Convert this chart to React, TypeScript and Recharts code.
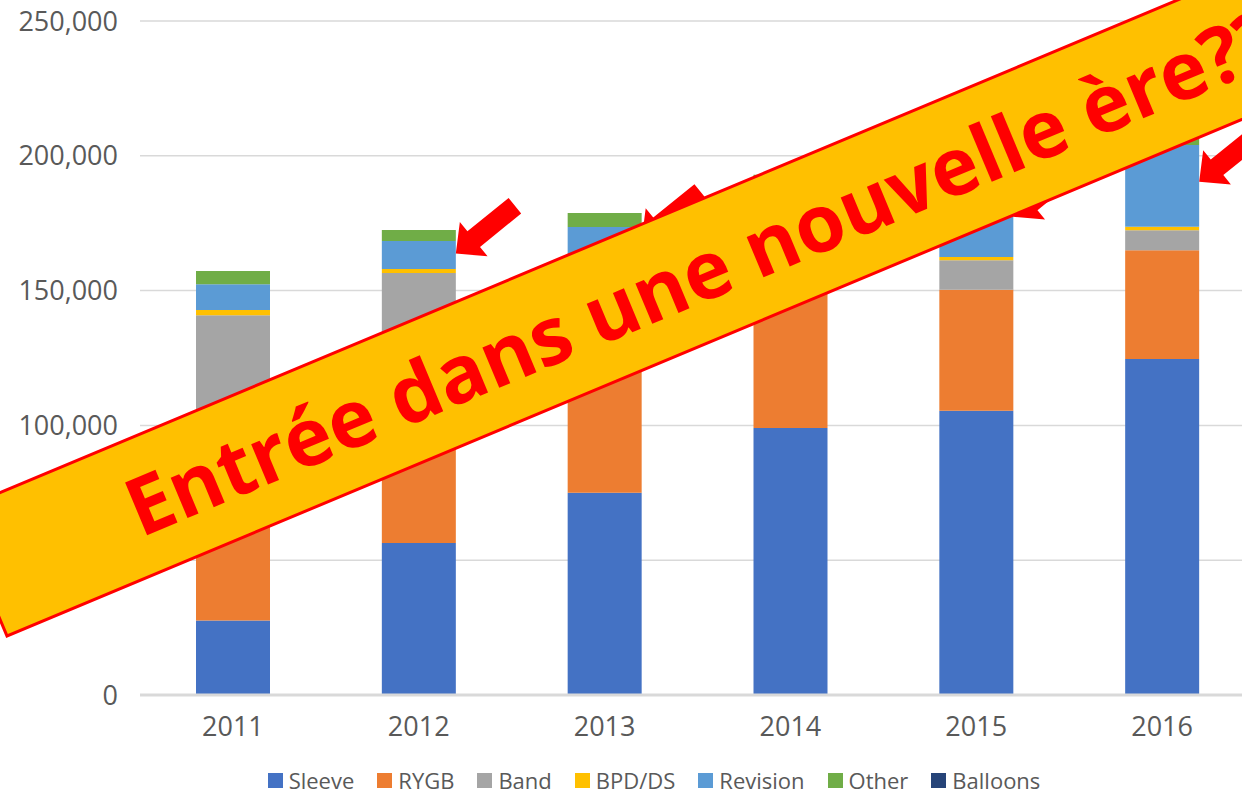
import { BarChart, Bar, XAxis, YAxis, CartesianGrid, Legend, LabelList } from 'recharts';

// Bariatric procedures per year
const years = ['2011', '2012', '2013', '2014', '2015', '2016'];
const sleeve = [27600, 56400, 75000, 99000, 105400, 124600];
const rygb = [57800, 64900, 61200, 51700, 44900, 40400];
const band = [55500, 35200, 25000, 18300, 11000, 7400];
const bpdds = [1900, 1500, 1800, 800, 1200, 1300];
const revision = [9600, 10400, 10600, 22200, 27000, 30300];
const other = [4900, 4100, 5200, 1000, 5300, 5800];
const balloons = [0, 0, 0, 0, 1200, 6000];
const yTicks = [0, 50000, 100000, 150000, 200000, 250000];
const arrowYears = ['2012', '2013', '2015', '2016'];

const SERIES = [
  { key: 'sleeve', name: 'Sleeve', color: '#4472C4' },
  { key: 'rygb', name: 'RYGB', color: '#ED7D31' },
  { key: 'band', name: 'Band', color: '#A5A5A5' },
  { key: 'bpdds', name: 'BPD/DS', color: '#FFC000' },
  { key: 'revision', name: 'Revision', color: '#5B9BD5' },
  { key: 'other', name: 'Other', color: '#70AD47' },
  { key: 'balloons', name: 'Balloons', color: '#264478' },
];

const data = years.map((year, i) => ({
  year,
  sleeve: sleeve[i],
  rygb: rygb[i],
  band: band[i],
  bpdds: bpdds[i],
  revision: revision[i],
  other: other[i],
  balloons: balloons[i],
}));

const FONT = "'Open Sans', 'DejaVu Sans', sans-serif";
const TEXT = '#595959';

// red block arrow pointing at the right edge of the revision segment
function Arrow(props: any) {
  const { x, y, width, height, index } = props;
  if (!arrowYears.includes(years[index])) return null;
  const tx = Number(x) + Number(width);
  const ty = Number(y) + Number(height) * 0.45;
  return (
    <polygon
      points="0,0 23,-22 23,-10 76,-10 76,10 23,10 23,22"
      fill="#FF0000"
      transform={`translate(${tx},${ty}) rotate(-39)`}
    />
  );
}

function LegendBox() {
  return (
    <div
      style={{
        display: 'flex',
        justifyContent: 'center',
        alignItems: 'center',
        gap: 23,
        height: 26,
        fontSize: 22,
        lineHeight: '22px',
        color: TEXT,
        fontFamily: FONT,
      }}
    >
      {SERIES.map((s) => (
        <span key={s.key} style={{ display: 'flex', alignItems: 'center' }}>
          <span style={{ width: 15, height: 15, background: s.color, marginRight: 6 }} />
          {s.name}
        </span>
      ))}
    </div>
  );
}

export default function App() {
  return (
    <div
      style={{
        position: 'fixed',
        left: 0,
        top: 0,
        width: 1242,
        height: 796,
        overflow: 'hidden',
        background: '#fff',
        fontFamily: FONT,
      }}
    >
      <BarChart
        width={1308}
        height={796}
        data={data}
        margin={{ top: 21, right: 53, left: 0, bottom: 0 }}
      >
        <CartesianGrid vertical={false} stroke="#D9D9D9" strokeWidth={1.5} />
        <XAxis
          dataKey="year"
          height={75}
          axisLine={{ stroke: '#D9D9D9', strokeWidth: 3 }}
          tickLine={false}
          tickSize={0}
          tickMargin={22}
          tick={{ fill: TEXT, fontSize: 27, fontFamily: FONT }}
        />
        <YAxis
          width={140}
          domain={[0, 250000]}
          ticks={yTicks}
          axisLine={false}
          tickLine={false}
          tickSize={0}
          tickMargin={22}
          tick={{ fill: TEXT, fontSize: 27, fontFamily: FONT }}
          tickFormatter={(v: number) => v.toLocaleString('en-US')}
        />
        <Legend
          verticalAlign="bottom"
          content={<LegendBox />}
          wrapperStyle={{ left: 0, width: 1308, height: 26, bottom: 3 }}
        />
        {SERIES.map((s) => (
          <Bar
            key={s.key}
            dataKey={s.key}
            name={s.name}
            stackId="a"
            fill={s.color}
            barSize={74}
            isAnimationActive={false}
          >
            {s.key === 'revision' && <LabelList dataKey="revision" content={<Arrow />} />}
          </Bar>
        ))}
      </BarChart>

      <svg
        width={1242}
        height={796}
        style={{ position: 'absolute', left: 0, top: 0, pointerEvents: 'none' }}
      >
        <g transform="translate(7,636) rotate(-22.7)">
          <rect x={0} y={-135} width={1600} height={135} fill="#FFC000" stroke="#FF0000" strokeWidth={3} />
          <text x={161} y={-39} fontSize={80} fontWeight={700} fill="#FF0000" fontFamily={FONT}>
            Entrée dans une nouvelle ère??
          </text>
        </g>
      </svg>
    </div>
  );
}
